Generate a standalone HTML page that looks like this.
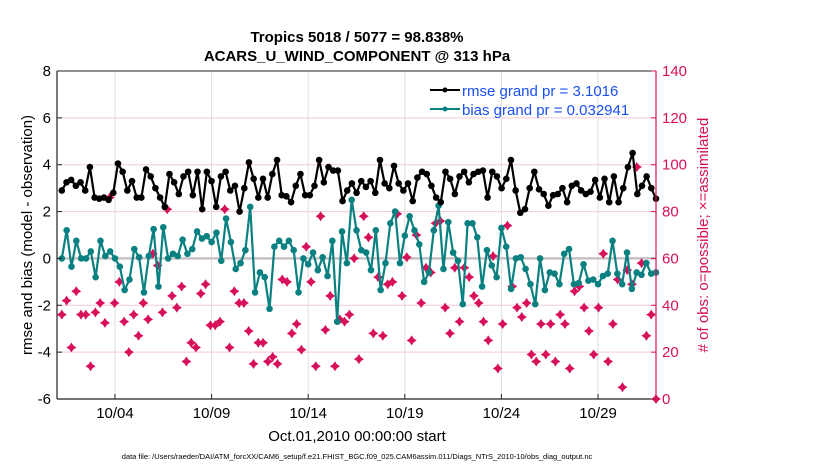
<!DOCTYPE html>
<html><head><meta charset="utf-8"><style>
body{margin:0;background:#fff;font-family:"Liberation Sans",sans-serif}
</style></head><body>
<svg id="chart" width="830" height="470" xmlns="http://www.w3.org/2000/svg" font-family="Liberation Sans, sans-serif">
<rect width="830" height="470" fill="#fff"/>
<g id="grid"></g>
<g id="marks"></g>
<g id="axes"></g>
<text x="357" y="42" text-anchor="middle" font-size="15" font-weight="bold">Tropics 5018 / 5077 = 98.838%</text>
<text x="357" y="61" text-anchor="middle" font-size="15" font-weight="bold">ACARS_U_WIND_COMPONENT @ 313 hPa</text>
<text transform="translate(32,235) rotate(-90)" text-anchor="middle" font-size="15">rmse and bias (model - observation)</text>
<text transform="translate(708,235) rotate(-90)" text-anchor="middle" font-size="15" fill="#d6105a"># of obs: o=possible; ×=assimilated</text>
<text x="357" y="441" text-anchor="middle" font-size="15">Oct.01,2010 00:00:00 start</text>
<text x="357" y="459" text-anchor="middle" font-size="7.5">data file: /Users/raeder/DAI/ATM_forcXX/CAM6_setup/f.e21.FHIST_BGC.f09_025.CAM6assim.011/Diags_NTrS_2010-10/obs_diag_output.nc</text>
<g>
<line x1="430" y1="90" x2="460" y2="90" stroke="#000" stroke-width="2"/><circle cx="445" cy="90" r="2.5" fill="#000"/>
<text x="462" y="96" font-size="15" fill="#1a4ff0">rmse grand pr = 3.1016</text>
<line x1="430" y1="109" x2="460" y2="109" stroke="#0a8080" stroke-width="2"/><circle cx="445" cy="109" r="2.5" fill="#0a8080"/>
<text x="462" y="115" font-size="15" fill="#1a4ff0">bias grand pr = 0.032941</text>
</g>
</svg>
<script>
const rmse=[2.9,3.25,3.35,3.1,3.25,2.9,3.9,2.6,2.55,2.6,2.5,2.8,4.05,3.7,2.9,3.3,2.6,2.6,3.8,3.5,3.0,2.6,2.2,3.6,3.25,2.75,3.5,3.7,2.7,3.7,2.1,3.7,3.3,2.2,3.5,3.7,2.9,3.1,2.0,3.0,4.1,3.4,2.6,
3.4,2.6,3.6,4.2,2.7,2.65,2.4,3.1,3.6,2.7,2.7,3.1,4.2,3.25,3.9,3.75,3.75,2.45,2.9,3.2,2.8,3.3,3.05,3.3,2.8,4.2,3.2,3.0,3.95,3.2,2.9,3.2,2.45,3.45,3.7,3.6,3.1,2.6,2.4,3.7,3.4,2.75,3.5,3.7,
3.25,3.6,3.7,3.75,2.6,3.7,3.5,3.0,3.4,4.2,2.9,1.95,2.1,3.0,3.7,2.95,2.75,2.25,2.7,2.75,3.0,2.4,3.1,3.2,2.9,2.75,2.85,3.35,2.6,3.4,2.4,3.5,2.4,3.0,3.9,4.5,2.75,3.1,3.5,3.0,2.55];
const bias=[0,1.2,-0.35,0.75,0,0,0.3,-0.8,0.75,0.1,0.3,0,-0.35,-1.35,-0.9,0.4,0.05,-1.45,0.1,1.25,-1.2,1.33,0,0.2,0.1,0.8,0.2,0.4,1.15,0.85,0.95,0.7,1.1,-0.1,1.7,0.7,-0.45,-0.2,0.35,2.2,-1.45,-0.6,-0.8,-2.15,0.5,0.75,
0.5,0.75,0.35,-1.45,0,-0.25,0.25,-0.5,0.05,-0.75,0.75,-2.7,1.15,-0.2,2.5,1.2,0.35,0.25,-0.5,1.2,-1.35,-0.2,1.5,2.0,-0.2,0.97,1.8,1.2,0.6,-1.0,-0.6,1.2,2.25,-0.45,1.55,0.25,-0.1,-1.95,1.5,
1.5,0.9,-1.2,0.35,-0.3,-0.8,1.3,0.5,-1.3,0,0.05,-0.45,-1.1,-1.95,0,-1.35,-0.6,-0.65,-1.1,0.2,0.4,-1.1,-1.05,-0.25,-0.95,-0.9,-1.1,-0.75,-0.65,0.75,-0.65,-1.1,0.25,-1.3,-0.6,-0.7,-0.2,-0.65,-0.6];
const nobs=[36,42,22,46,36,36,14,37,41,32.5,86,41,50,33,20,36,27,41,34,62,57,37,81,44,39,48,16,24,22,45,49,31.5,31.5,33,81,22,46,41,41,29,15,24,
24,16,18,15,51,50,28,32,21,65,50,14,78,29.5,44,14,34,33,36,60,17,78,69,28,52,27,49,50,79,44,60.5,25,70,41,56,54,75,76,39,28,56,33,
56,52,44,41,33,25,61,13,32,74,48,39,35,41,19,16,32,19,32,16,36,32,13,46,48,39,29,19,39,62,16,32,51,5,55,49,99,58,27,36,0];
const leftTicks=[-6,-4,-2,0,2,4,6,8];
const rightTicks=[0,20,40,60,80,100,120,140];
const dateTicks=[3,8,13,18,23,28];
const dateLabels=["10/04","10/09","10/14","10/19","10/24","10/29"];

const L=57,R=656,T=71,B=399;
const xs=d=>L+(d/31)*(R-L);
const yl=v=>B-(v+6)/14*(B-T);
const yr=v=>B-v/140*(B-T);
const NS="http://www.w3.org/2000/svg";
function mk(tag,attrs,parent){const e=document.createElementNS(NS,tag);for(const k in attrs)e.setAttribute(k,attrs[k]);parent.appendChild(e);return e;}
const grid=document.getElementById('grid'),marks=document.getElementById('marks'),axes=document.getElementById('axes');
const dayOf=(i,n)=>0.25+i*(30.75/(n-1));

rightTicks.forEach(t=>{const l=mk('line',{x1:L,x2:R,y1:yr(t),y2:yr(t),stroke:'#f3c9d8','stroke-width':1},grid);

});
dateTicks.forEach(d=>{const l=mk('line',{x1:xs(d),x2:xs(d),y1:T,y2:B,stroke:'#dddddd','stroke-width':1},grid);

});
const z=mk('line',{x1:L,x2:R,y1:yl(0),y2:yl(0),stroke:'#c8c0c4','stroke-width':2.5},grid);



// obs markers
nobs.forEach((v,i)=>{const x=xs(dayOf(i,nobs.length)),y=yr(v);
const g=mk('path',{d:`M${x} ${y-5}L${x+2} ${y-2}L${x+5} ${y}L${x+2} ${y+2}L${x} ${y+5}L${x-2} ${y+2}L${x-5} ${y}L${x-2} ${y-2}Z`,fill:'#d6105a'},marks);

});

function series(arr,color,name){
const pts=arr.map((v,i)=>[xs(dayOf(i,arr.length)),yl(v)]);
const p=mk('polyline',{points:pts.map(p=>p.join(',')).join(' '),fill:'none',stroke:color,'stroke-width':2.2,'stroke-linejoin':'round'},marks);


pts.forEach(q=>{const c=mk('circle',{cx:q[0],cy:q[1],r:3.3,fill:color},marks);

});}
series(bias,'#0a8080','bias');
series(rmse,'#000','rmse');

// axes
mk('line',{x1:L,x2:L,y1:T,y2:B,stroke:'#222','stroke-width':1.2},axes);
mk('line',{x1:L,x2:R,y1:B,y2:B,stroke:'#222','stroke-width':1.2},axes);
mk('line',{x1:L,x2:R,y1:T,y2:T,stroke:'#222','stroke-width':1},axes);
mk('line',{x1:R,x2:R,y1:T,y2:B,stroke:'#d6105a','stroke-width':1.2},axes);
leftTicks.forEach(t=>{mk('line',{x1:L,x2:L+5,y1:yl(t),y2:yl(t),stroke:'#222'},axes);
const tx=mk('text',{x:L-6,y:yl(t)+5,'text-anchor':'end','font-size':15},axes);tx.textContent=t;

});
rightTicks.forEach(t=>{mk('line',{x1:R-5,x2:R,y1:yr(t),y2:yr(t),stroke:'#d6105a'},axes);
const tx=mk('text',{x:R+6,y:yr(t)+5,'font-size':15,fill:'#d6105a'},axes);tx.textContent=t;

});
dateTicks.forEach((d,i)=>{mk('line',{x1:xs(d),x2:xs(d),y1:B,y2:B-5,stroke:'#222'},axes);
const tx=mk('text',{x:xs(d),y:B+19,'text-anchor':'middle','font-size':15},axes);tx.textContent=dateLabels[i];

});
</script>
</body></html>
